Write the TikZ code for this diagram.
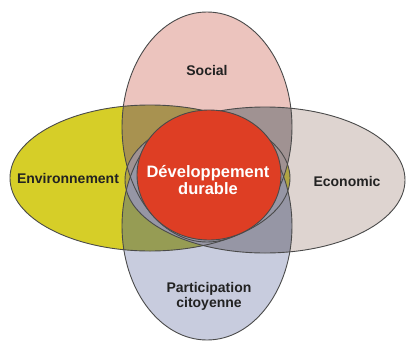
\documentclass[tikz,border=0pt]{standalone}
\usepackage{fontspec}
\setmainfont{Liberation Sans}
\definecolor{cSoc}{HTML}{ECC4BE}
\definecolor{cEnv}{HTML}{D6CE28}
\definecolor{cEco}{HTML}{DED4D0}
\definecolor{cPar}{HTML}{C8CCDE}
\definecolor{cRed}{HTML}{DE3E24}
\definecolor{cSE}{HTML}{A89250}
\definecolor{cSC}{HTML}{A09292}
\definecolor{cEP}{HTML}{969C54}
\definecolor{cCP}{HTML}{9696A5}
\definecolor{cEC}{HTML}{B0A444}
\definecolor{cSP}{HTML}{8C8070}
\definecolor{cLine}{HTML}{4A4A4A}
\definecolor{cTxt}{HTML}{222222}
\tikzset{
  outline/.style={draw=cLine, line width=0.9pt},
  lbl/.style={font=\bfseries\fontsize{14}{15}\selectfont, text=cTxt, align=center, inner sep=0pt},
  mainlbl/.style={font=\bfseries\fontsize{16.5}{17.5}\selectfont, text=white, align=center, inner sep=0pt}
}
\def\Soc{(207,127) ellipse [x radius=85, y radius=115]}
\def\Par{(207,226) ellipse [x radius=85, y radius=114]}
\def\Env{(150,178) ellipse [x radius=140, y radius=73]}
\def\Eco{(265,180) ellipse [x radius=140, y radius=73]}
\def\Red{(209,175) ellipse [x radius=72, y radius=65]}
\begin{document}
\begin{tikzpicture}[x=1pt,y=-1pt]
\useasboundingbox (0,0) rectangle (406,348);
% base fills
\fill[cSoc] \Soc;
\fill[cPar] \Par;
\fill[cEnv] \Env;
\fill[cEco] \Eco;
% pairwise overlaps
\begin{scope}\clip \Soc; \fill[cSP] \Par; \end{scope}
\begin{scope}\clip \Env; \fill[cEC] \Eco; \end{scope}
\begin{scope}\clip \Soc; \fill[cSE] \Env; \end{scope}
\begin{scope}\clip \Soc; \fill[cSC] \Eco; \end{scope}
\begin{scope}\clip \Par; \fill[cEP] \Env; \end{scope}
\begin{scope}\clip \Par; \fill[cCP] \Eco; \end{scope}
% outlines
\path[outline] \Soc;
\path[outline] \Par;
\path[outline] \Env;
\path[outline] \Eco;
% centre
\path[outline, fill=cRed] \Red;
% labels
\node[lbl] (social) at (207,70) {Social};
\node[lbl] (env) at (68,178) {Environnement};
\node[lbl] (eco) at (347,181) {Economic};
\node[lbl] (part) at (209,296) {Participation\\citoyenne};
\node[mainlbl] (dd) at (208,180) {Développement\\durable};
\end{tikzpicture}
\end{document}
